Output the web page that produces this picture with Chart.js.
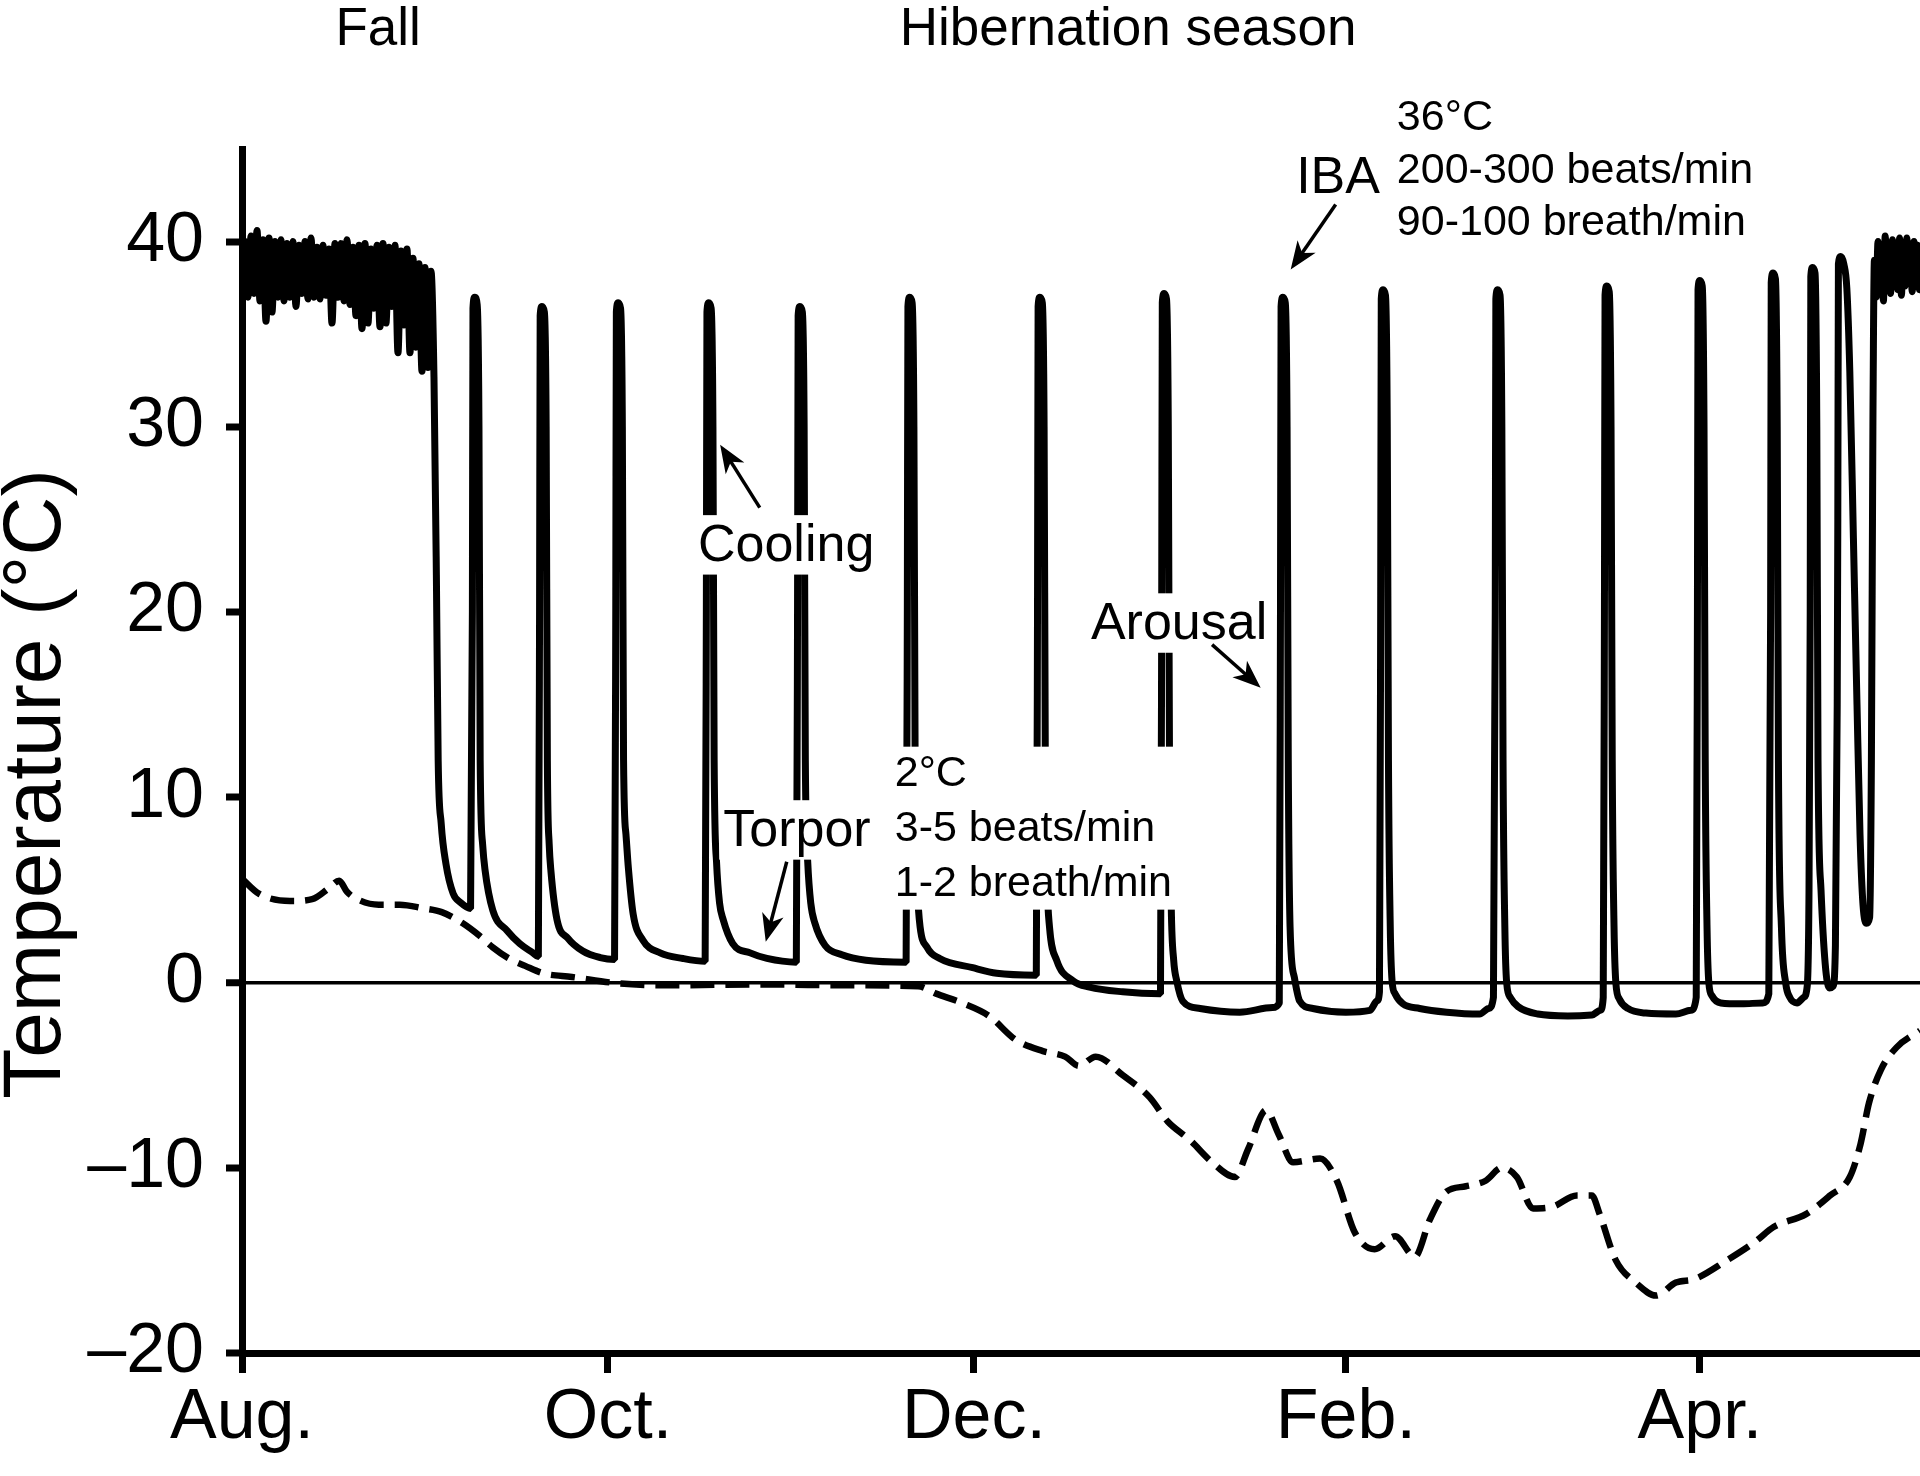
<!DOCTYPE html>
<html>
<head>
<meta charset="utf-8">
<title>Body and ambient temperature through the hibernation season</title>
<script src="https://cdn.jsdelivr.net/npm/chart.js@4.4.1/dist/chart.umd.min.js"></script>
<style>
  html, body { margin: 0; padding: 0; background: #fff; }
  #wrap { width: 1920px; height: 1476px; }
</style>
</head>
<body>
<div id="wrap"><canvas id="tempChart" width="1920" height="1476"></canvas></div>
<script>
// x values are days counted from 1 August
const monthDays = [0, 61, 122, 184, 243];
const monthLabels = ['Aug.', 'Oct.', 'Dec.', 'Feb.', 'Apr.'];
const tempTicks = [-20, -10, 0, 10, 20, 30, 40];
const tempTickLabels = ['\u201320', '\u201310', '0', '10', '20', '30', '40'];

// body temperature, [day, °C] - euthermic fall period
const bodyFall = [
  [0, 38.5], [0.5, 40.0], [1, 37.0], [1.5, 40.3], [2, 37.2], [2.5, 40.6], [3, 36.8], [3.5, 40.1],
  [4, 35.7], [4.5, 40.2], [5, 36.2], [5.5, 40.0], [6, 37.0], [6.5, 40.1], [7, 36.8], [7.5, 39.9],
  [8, 37.0], [8.5, 40.0], [9, 36.5], [9.5, 39.8], [10, 37.2], [10.5, 40.0], [11, 36.9], [11.5, 40.2],
  [12, 37.0], [12.5, 39.7], [13, 36.9], [13.5, 39.8], [14, 37.1], [14.5, 39.6], [15, 35.6], [15.5, 39.9],
  [16, 37.0], [16.5, 39.9], [17, 36.8], [17.5, 40.1], [18, 36.6], [18.5, 39.7], [19, 36.0], [19.5, 39.8],
  [20, 35.3], [20.5, 39.9], [21, 35.6], [21.5, 39.6], [22, 36.4], [22.5, 39.8], [23, 35.4], [23.5, 39.9],
  [24, 35.6], [24.5, 39.7], [25, 36.5], [25.5, 39.8], [26, 34.0], [26.5, 39.5], [27, 35.5], [27.5, 39.6],
  [28, 34.0], [28.5, 39.1], [29, 34.3], [29.5, 38.8], [30, 33.0], [30.5, 38.6], [31, 33.2], [31.5, 38.4],
  [32, 32.7]
];

// body temperature - torpor bouts and interbout arousals
const bodyHibernation = [
  [32.4, 22], [32.7, 12], [33.2, 8.6], [34.0, 6.4], [35.2, 4.8], [36.5, 4.3], [38.1, 4.0],
  [38.4, 20], [38.5, 36.4], [38.8, 37.0], [39.2, 36.6], [39.5, 30], [39.7, 12], [40.1, 7.5], [40.5, 6.1],
  [41.8, 3.9], [44.2, 2.8], [46.3, 2.1], [48.5, 1.6], [49.4, 1.4],
  [49.6, 20], [49.7, 36.0], [50.0, 36.5], [50.4, 36.2], [50.7, 30], [50.9, 12], [51.2, 7.5], [51.5, 6.0],
  [52.5, 3.4], [54.3, 2.4], [56.8, 1.7], [59.7, 1.35], [62.1, 1.25],
  [62.3, 20], [62.4, 36.2], [62.7, 36.7], [63.1, 36.4], [63.4, 30], [63.6, 12], [64.0, 8], [64.4, 6.2],
  [65.2, 3.7], [66.8, 2.3], [69.7, 1.6], [73.5, 1.3], [77.2, 1.15],
  [77.4, 20], [77.5, 36.2], [77.8, 36.7], [78.2, 36.4], [78.5, 30], [78.7, 12], [79.1, 6.5], [79.6, 4.3],
  [80.2, 3.4], [81.8, 2.1], [84.7, 1.6], [87.5, 1.3], [92.4, 1.1],
  [92.6, 20], [92.7, 36.0], [93.0, 36.5], [93.4, 36.2], [93.7, 30], [93.9, 12], [94.3, 6.5], [94.8, 4.3],
  [95.5, 3.2], [97.2, 2.0], [100, 1.5], [104, 1.2], [110.7, 1.1],
  [110.9, 20], [111.0, 36.5], [111.3, 37.0], [111.7, 36.7], [112.0, 30], [112.2, 12], [112.5, 6], [112.9, 3.4],
  [114.2, 1.9], [116.3, 1.3], [121.8, 0.8], [125.8, 0.5], [132.4, 0.4],
  [132.6, 20], [132.7, 36.5], [133.0, 37.0], [133.4, 36.7], [133.7, 30], [133.9, 12], [134.2, 5.5], [134.6, 3.0],
  [135.8, 1.2], [138.5, 0.1], [141.3, -0.25], [146.8, -0.5], [153.1, -0.6],
  [153.3, 20], [153.4, 36.7], [153.7, 37.2], [154.1, 36.9], [154.4, 30], [154.6, 12], [154.9, 4], [155.3, 1.2],
  [155.8, 0.1], [156.8, -1.0], [159.7, -1.4], [166.3, -1.6], [171.8, -1.35], [172.9, -1.1],
  [173.1, 20], [173.2, 36.5], [173.5, 37.0], [173.9, 36.7], [174.2, 30], [174.4, 12], [174.7, 3], [175.4, 0.3],
  [176.3, -1.0], [178.5, -1.4], [184, -1.6], [188, -1.5], [189.2, -1.0], [189.6, -0.5],
  [189.8, 20], [189.9, 36.9], [190.2, 37.4], [190.6, 37.1], [190.9, 30], [191.1, 12], [191.4, 3], [191.7, 0.1],
  [192.2, -0.6], [193.5, -1.15], [196.3, -1.4], [200.8, -1.6], [206.3, -1.7], [207.8, -1.4], [208.6, -0.8],
  [208.9, 20], [209.0, 36.9], [209.3, 37.4], [209.7, 37.1], [210.0, 30], [210.2, 12], [210.5, 3], [210.8, 0],
  [211.4, -0.8], [212.7, -1.3], [216, -1.7], [221, -1.8], [225, -1.75], [226.4, -1.5], [226.9, -0.8],
  [227.1, 20], [227.2, 37.1], [227.5, 37.6], [227.9, 37.3], [228.2, 30], [228.4, 12], [228.7, 3], [229.0, 0],
  [229.6, -0.9], [231, -1.4], [234, -1.65], [239, -1.7], [241.5, -1.5], [242.4, -0.8],
  [242.6, 20], [242.7, 37.4], [243.0, 37.9], [243.4, 37.6], [243.7, 30], [243.9, 12], [244.2, 3], [244.5, 0],
  [245, -0.7], [246.5, -1.1], [250, -1.15], [253.5, -1.1], [254.5, -0.6],
  [254.8, 20], [254.9, 37.8], [255.2, 38.3], [255.6, 38.0], [255.9, 30], [256.1, 12], [256.6, 3], [257.3, 0],
  [258.0, -0.8], [259.2, -1.1], [260.3, -0.8], [260.9, -0.2], [261.2, 5],
  [261.4, 20], [261.5, 38.1], [261.8, 38.6], [262.2, 38.3], [262.5, 30], [262.7, 12], [263.2, 5], [263.9, 1],
  [264.6, -0.3], [265.2, -0.2], [265.6, 2], [265.9, 15],
  [266.0, 25], [266.1, 38.8], [266.5, 39.2], [267.0, 38.8], [267.5, 37.5], [268.0, 33], [268.6, 24], [269.2, 15],
  [269.7, 8], [270.2, 4.2], [270.8, 3.2], [271.3, 3.5], [271.6, 12], [271.85, 30], [272.1, 39.0]
];

// body temperature - spring emergence
const bodySpring = [
  [272.4, 37.0], [272.7, 40.0], [273.0, 37.3], [273.3, 39.6], [273.6, 36.8], [273.9, 40.3], [274.2, 37.6],
  [274.5, 39.4], [274.8, 37.2], [275.1, 40.1], [275.4, 37.8], [275.7, 39.8], [276.0, 37.4], [276.3, 40.2],
  [276.6, 37.1], [276.9, 39.7], [277.2, 37.6], [277.5, 40.2], [277.8, 37.8], [278.1, 39.9], [278.4, 37.3],
  [278.7, 40.0], [279.0, 37.6], [279.3, 39.8], [279.6, 37.4], [279.9, 39.6]
];

// ambient (burrow) temperature, [day, °C]
const airTrace = [
  [0, 5.6], [2.8, 4.8], [8, 4.4], [11.7, 4.5], [14.5, 5.1], [16.2, 5.5], [17.5, 4.9], [19.2, 4.5],
  [22.8, 4.2], [26.3, 4.2], [30.3, 4.0], [33.3, 3.8], [36.8, 3.2], [39.7, 2.5], [41.8, 1.9], [44.5, 1.3],
  [47.2, 0.9], [50.2, 0.5], [55, 0.3], [63, -0.05], [71.3, -0.15], [86.3, -0.1], [101.3, -0.15],
  [112.7, -0.2], [115.7, -0.6], [120, -1.1], [124.5, -1.8], [129, -3.1], [133.5, -3.7], [137.2, -4.0],
  [139.5, -4.5], [142.3, -4.0], [146.8, -5.0], [151.3, -6.2], [154.3, -7.5], [158, -8.5], [161.7, -9.7],
  [165.5, -10.5], [167.7, -9.0], [170.7, -6.9], [172.8, -8.2], [175.2, -9.7], [179.7, -9.5], [182.5, -10.7],
  [185.5, -13.5], [188.8, -14.4], [192.2, -13.7], [195.5, -14.8], [198, -12.8], [200.7, -11.3], [204, -11.0],
  [207.3, -10.7], [210, -10.0], [212.5, -10.5], [215.2, -12.2], [218.5, -12.1], [222.5, -11.5], [225, -11.5],
  [226.3, -12.5], [229, -15.0], [232.3, -16.2], [235.7, -16.9], [239, -16.2], [242.2, -16.0], [247.5, -15.0],
  [252.2, -14.0], [255.3, -13.2], [260.7, -12.5], [264.7, -11.5], [268, -10.5], [269.8, -8.7], [271.2, -6.5],
  [273.2, -4.7], [275.8, -3.5], [279.7, -2.6]
];

const bodyTrace = bodyFall.concat(bodyHibernation, bodySpring);

// annotations, anchored in data units (day, °C)
const FONT = '"Liberation Sans", Arial, Helvetica, sans-serif';
const headings = [
  { text: 'Fall', day: 22.7, temp: 50.6 },
  { text: 'Hibernation season', day: 147.7, temp: 50.6 }
];
const notes = [
  { lines: ['Cooling'], day: 90.7, temp: 22.78, size: 52, align: 'center' },
  { lines: ['Torpor'], day: 92.5, temp: 7.39, size: 52, align: 'center' },
  { lines: ['2°C', '3-5 beats/min', '1-2 breath/min'], day: 108.8, temp: 10.63, size: 43, gap: 55, align: 'left' },
  { lines: ['Arousal'], day: 156.2, temp: 18.56, size: 52, align: 'center' },
  { lines: ['IBA'], day: 182.7, temp: 42.65, size: 52, align: 'center' },
  { lines: ['36°C', '200-300 beats/min', '90-100 breath/min'], day: 192.5, temp: 46.0, size: 43, gap: 52.5, align: 'left' }
];
const arrows = [
  { from: [182.3, 42.0], to: [174.8, 38.49] },
  { from: [86.3, 25.64], to: [79.7, 29.04] },
  { from: [90.8, 6.52], to: [87.3, 2.2] },
  { from: [161.7, 18.24], to: [169.8, 15.92] }
];

function drawArrow(ctx, x1, y1, x2, y2) {
  const ang = Math.atan2(y2 - y1, x2 - x1);
  const c = Math.cos(ang), s = Math.sin(ang);
  const len = 28, half = 11;
  const bx = x2 - len * c, by = y2 - len * s;
  ctx.beginPath();
  ctx.moveTo(x1, y1);
  ctx.lineTo(x2 - 0.6 * len * c, y2 - 0.6 * len * s);
  ctx.lineWidth = 3.5;
  ctx.strokeStyle = '#000';
  ctx.stroke();
  ctx.beginPath();
  ctx.moveTo(x2, y2);
  ctx.lineTo(bx - half * s, by + half * c);
  ctx.lineTo(x2 - 0.72 * len * c, y2 - 0.72 * len * s);
  ctx.lineTo(bx + half * s, by - half * c);
  ctx.closePath();
  ctx.fillStyle = '#000';
  ctx.fill();
}

const annotationPlugin = {
  id: 'annotations',
  afterDatasetsDraw(chart) {
    const { ctx, scales: { x, y } } = chart;
    ctx.save();
    ctx.textBaseline = 'alphabetic';

    // notes sit on white boxes that hide the traces behind them
    notes.forEach(n => {
      ctx.font = n.size + 'px ' + FONT;
      const px = x.getPixelForValue(n.day);
      const py = y.getPixelForValue(n.temp);
      const gap = n.gap || 0;
      const w = Math.max(...n.lines.map(l => ctx.measureText(l).width));
      const left = n.align === 'center' ? px - w / 2 : px;
      const top = py - n.size * 0.72 - 8;
      const bottom = py + gap * (n.lines.length - 1) + 14;
      ctx.fillStyle = '#fff';
      ctx.fillRect(left - 4, top, w + 8, bottom - top);
      ctx.fillStyle = '#000';
      ctx.textAlign = n.align;
      n.lines.forEach((l, i) => ctx.fillText(l, px, py + gap * i));
    });

    arrows.forEach(a => {
      drawArrow(ctx,
        x.getPixelForValue(a.from[0]), y.getPixelForValue(a.from[1]),
        x.getPixelForValue(a.to[0]), y.getPixelForValue(a.to[1]));
    });

    // season headings above the plot
    ctx.font = '53px ' + FONT;
    ctx.textAlign = 'center';
    ctx.fillStyle = '#000';
    headings.forEach(h => ctx.fillText(h.text, x.getPixelForValue(h.day), y.getPixelForValue(h.temp)));

    // y axis title
    const area = chart.chartArea;
    ctx.translate(60, (area.top + area.bottom) / 2 + 33);
    ctx.rotate(-Math.PI / 2);
    ctx.font = '82px ' + FONT;
    ctx.fillText('Temperature (°C)', 0, 0);
    ctx.restore();
  }
};

Chart.defaults.font.family = FONT;
Chart.defaults.color = '#000';

new Chart(document.getElementById('tempChart'), {
  type: 'line',
  data: {
    datasets: [
      {
        label: 'Body temperature',
        data: bodyTrace.map(([d, t]) => ({ x: d, y: t })),
        borderColor: '#000',
        borderWidth: 7,
        borderJoinStyle: 'bevel',
        pointRadius: 0,
        cubicInterpolationMode: 'monotone',
        fill: false
      },
      {
        label: 'Ambient temperature',
        data: airTrace.map(([d, t]) => ({ x: d, y: t })),
        borderColor: '#000',
        borderWidth: 6.5,
        borderDash: [24, 11],
        pointRadius: 0,
        cubicInterpolationMode: 'monotone',
        fill: false
      }
    ]
  },
  options: {
    responsive: false,
    animation: false,
    devicePixelRatio: 1,
    layout: { padding: { top: 149, left: 0, right: 0, bottom: 0 } },
    plugins: { legend: { display: false }, tooltip: { enabled: false } },
    scales: {
      x: {
        type: 'linear',
        min: 0,
        max: 279.7,
        afterBuildTicks: s => { s.ticks = monthDays.map(v => ({ value: v })); },
        afterFit: s => { s.height = 123; },
        ticks: {
          callback: v => monthLabels[monthDays.indexOf(v)],
          font: { size: 70 },
          color: '#000',
          padding: 4,
          maxRotation: 0,
          autoSkip: false
        },
        grid: { drawOnChartArea: false, tickLength: 20, tickWidth: 7, tickColor: '#000' },
        border: { width: 7, color: '#000' }
      },
      y: {
        type: 'linear',
        min: -20,
        max: 45,
        afterBuildTicks: s => { s.ticks = tempTicks.map(v => ({ value: v })); },
        afterFit: s => { s.width = 242; },
        ticks: {
          callback: v => tempTickLabels[tempTicks.indexOf(v)],
          font: { size: 70 },
          color: '#000',
          padding: 22
        },
        grid: {
          color: c => (c.tick && c.tick.value === 0 ? '#000' : 'rgba(0,0,0,0)'),
          lineWidth: c => (c.tick && c.tick.value === 0 ? 3.5 : 0),
          tickLength: 16,
          tickWidth: 7,
          tickColor: '#000'
        },
        border: { width: 7, color: '#000' }
      }
    }
  },
  plugins: [annotationPlugin]
});
</script>
</body>
</html>
